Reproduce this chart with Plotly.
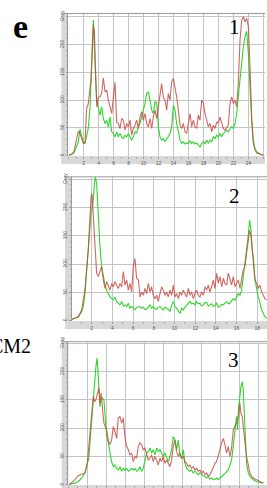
import plotly.graph_objects as go

# ---------------- data (distance in µm, intensity in gray levels) ----------------
dist1 = [0.07, 0.42, 0.73, 1.09, 1.31, 1.53, 1.76, 1.98, 2.20, 2.42, 2.64, 2.87, 3.00, 3.13, 3.31, 3.44, 3.58,
         3.76, 3.98, 4.20, 4.42, 4.64, 4.87, 5.09, 5.31, 5.53,
         5.76, 5.98, 6.20, 6.42, 6.64, 6.87, 7.09, 7.31, 7.53,
         7.76, 7.98, 8.20, 8.42, 8.64, 8.87, 9.09, 9.31, 9.53,
         9.76, 9.98, 10.20, 10.42, 10.64, 10.87, 11.09, 11.31, 11.53,
         11.76, 11.98, 12.20, 12.42, 12.64, 12.87, 13.09, 13.31, 13.53,
         13.76, 13.98, 14.20, 14.42, 14.64, 14.87, 15.09, 15.31, 15.53,
         15.76, 15.98, 16.20, 16.42, 16.64, 16.87, 17.09, 17.31, 17.53,
         17.76, 17.98, 18.20, 18.42, 18.64, 18.87, 19.09, 19.31, 19.53,
         19.76, 19.98, 20.20, 20.42, 20.64, 20.87, 21.09, 21.31, 21.53,
         21.76, 21.98, 22.20, 22.42, 22.64, 22.87, 23.09, 23.31, 23.53,
         23.76, 23.98, 24.20, 24.42, 24.64, 24.87, 25.09, 25.53, 25.98]
green1 = [1, 2, 5, 16, 25, 48, 35, 24, 22, 36, 50, 88, 125, 185, 244, 210, 150,
          98, 82, 73, 88, 67, 58, 64, 52, 70,
          43, 40, 34, 43, 34, 40, 34, 31, 37,
          34, 40, 34, 28, 34, 43, 40, 52, 58,
          70, 82, 94, 112, 115, 100, 82, 76, 97,
          95, 52, 34, 28, 31, 25, 31, 34, 40,
          52, 91, 82, 58, 40, 28, 22, 25, 21,
          23, 22, 27, 22, 25, 21, 23, 19, 16,
          22, 25, 22, 28, 23, 28, 25, 34, 31,
          37, 34, 40, 34, 40, 43, 46, 43, 49,
          52, 49, 58, 76, 106, 136, 172, 196, 214,
          224, 184, 118, 64, 28, 13, 7, 3, 1]
red1 = [1, 3, 8, 28, 44, 40, 30, 22, 24, 85, 94, 128, 136, 172, 235, 226, 165,
        88, 105, 106, 112, 140, 115, 118, 100, 88,
        76, 105, 132, 60, 58, 49, 67, 64, 46,
        58, 52, 64, 37, 49, 55, 64, 49, 70,
        79, 64, 76, 58, 52, 67, 49, 70, 82,
        67, 88, 118, 130, 105, 100, 82, 112, 100,
        133, 139, 125, 106, 82, 55, 49, 58, 43,
        40, 58, 76, 52, 64, 52, 49, 73, 64,
        100, 95, 76, 64, 52, 58, 43, 55, 49,
        61, 58, 70, 58, 49, 46, 52, 55, 94,
        106, 94, 100, 88, 130, 208, 244, 250, 241,
        247, 232, 160, 70, 22, 10, 5, 3, 1]

dist2 = [0.06, 0.39, 0.71, 1.03, 1.19, 1.35, 1.51, 1.67, 1.84, 1.93, 2.03, 2.16, 2.25, 2.35, 2.48,
         2.64, 2.80, 2.96, 3.12, 3.29, 3.45, 3.61, 3.77, 3.93, 4.09,
         4.25, 4.41, 4.57, 4.73, 4.90, 5.06, 5.22, 5.38, 5.54, 5.70,
         5.86, 6.02, 6.18, 6.34, 6.51, 6.67, 6.83, 6.99, 7.15, 7.31,
         7.47, 7.63, 7.79, 7.95, 8.12, 8.28, 8.44, 8.60, 8.76, 8.92,
         9.08, 9.24, 9.40, 9.57, 9.73, 9.89, 10.05, 10.21, 10.37, 10.53,
         10.69, 10.85, 11.01, 11.18, 11.34, 11.50, 11.66, 11.82, 11.98, 12.14,
         12.30, 12.46, 12.62, 12.79, 12.95, 13.11, 13.27, 13.43, 13.59, 13.75,
         13.91, 14.07, 14.24, 14.40, 14.56, 14.72, 14.88, 15.04, 15.20, 15.36,
         15.52, 15.68, 15.85, 16.01, 16.17, 16.33, 16.49, 16.65, 16.81, 16.97,
         17.13, 17.26, 17.39, 17.52, 17.62, 17.78, 17.94, 18.10, 18.26, 18.42,
         18.58, 18.74, 18.91]
green2 = [2, 4, 7, 16, 25, 48, 90, 125, 172, 190, 196, 215, 240, 254, 243,
          178, 131, 96, 78, 63, 54, 48, 42, 39, 37,
          42, 34, 31, 28, 34, 26, 28, 25, 31, 22,
          25, 22, 19, 24, 25, 25, 22, 24, 20, 20,
          24, 28, 22, 25, 21, 20, 24, 25, 22, 19,
          24, 22, 20, 16, 28, 34, 25, 22, 16, 13,
          22, 19, 24, 28, 30, 34, 30, 31, 28, 34,
          30, 31, 26, 28, 32, 32, 26, 28, 30, 25,
          27, 31, 24, 25, 29, 28, 31, 34, 30, 31,
          35, 39, 36, 42, 48, 45, 54, 78, 101, 125,
          151, 178, 160, 125, 113, 72, 54, 42, 31, 19,
          13, 7, 4]
red2 = [2, 4, 7, 19, 34, 54, 90, 125, 184, 219, 225, 178, 150, 125, 84,
        78, 87, 96, 72, 57, 69, 63, 54, 66, 60,
        69, 63, 57, 66, 60, 87, 63, 72, 54, 66,
        51, 96, 110, 75, 72, 42, 51, 45, 57, 48,
        66, 51, 60, 45, 39, 45, 34, 48, 60, 54,
        45, 51, 42, 54, 45, 63, 42, 48, 39, 51,
        45, 54, 48, 42, 57, 45, 51, 39, 48, 54,
        45, 42, 51, 45, 60, 54, 63, 51, 60, 72,
        57, 84, 66, 78, 60, 75, 66, 63, 84, 72,
        63, 78, 60, 66, 72, 57, 78, 90, 96, 119,
        148, 160, 150, 125, 96, 72, 66, 57, 63, 51,
        45, 39, 37]

dist3 = [0.07, 0.35, 0.70, 1.05, 1.40, 1.75, 2.00, 2.14, 2.28, 2.46, 2.63, 2.77, 2.91, 3.02, 3.12, 3.23,
         3.33, 3.47, 3.61, 3.75, 3.89, 4.04,
         4.21, 4.39, 4.56, 4.74, 4.91, 5.09, 5.26, 5.44, 5.61, 5.79,
         5.96, 6.14, 6.32, 6.49, 6.67, 6.84, 7.02, 7.19, 7.37, 7.54,
         7.72, 7.89, 8.07, 8.25, 8.42, 8.60, 8.77, 8.95, 9.12, 9.30,
         9.47, 9.65, 9.82, 10.00, 10.18, 10.35, 10.53, 10.70, 10.88, 11.05,
         11.23, 11.40, 11.58, 11.75, 11.93, 12.11, 12.28, 12.46, 12.63, 12.81,
         12.98, 13.16, 13.33, 13.51, 13.68, 13.86, 14.04, 14.21, 14.39, 14.56,
         14.74, 14.91, 15.09, 15.26, 15.44, 15.61, 15.79, 15.96, 16.14, 16.32,
         16.49, 16.67, 16.84, 17.02, 17.19, 17.37, 17.54, 17.72,
         17.82, 17.93, 18.07, 18.18, 18.32, 18.42, 18.53, 18.67, 18.77, 18.95,
         19.12, 19.30, 19.47, 19.82, 20.18, 20.53]
green3 = [0, 2, 3, 6, 12, 21, 38, 45, 75, 120, 156, 179, 209, 224, 203, 162,
          138, 153, 153, 150, 121, 85,
          74, 56, 41, 32, 35, 29, 26, 32, 24, 29,
          26, 29, 24, 26, 29, 26, 29, 24, 26, 32,
          24, 29, 44, 56, 59, 65, 56, 62, 53, 65,
          59, 62, 56, 50, 56, 47, 41, 50, 62, 85,
          80, 62, 79, 53, 47, 62, 38, 29, 26, 24,
          26, 21, 24, 21, 18, 21, 18, 16, 15, 12,
          15, 10, 12, 9, 10, 12, 9, 12, 15, 18,
          21, 24, 26, 35, 44, 68, 97, 121,
          97, 138, 156, 174, 182, 168, 126, 79, 38, 21,
          15, 12, 9, 6, 4, 3]
red3 = [0, 4, 9, 16, 18, 21, 38, 68, 97, 126, 156, 147, 150, 158, 165, 171,
        144, 162, 132, 109, 103, 97,
        79, 71, 79, 103, 94, 82, 118, 121, 109, 118,
        85, 68, 62, 53, 56, 41, 50, 47, 68, 74,
        71, 62, 65, 53, 44, 47, 53, 41, 50, 44,
        35, 47, 41, 50, 38, 44, 38, 32, 44, 68,
        79, 59, 50, 56, 47, 50, 41, 38, 32, 35,
        29, 32, 26, 29, 24, 26, 21, 24, 18, 21,
        15, 18, 24, 32, 38, 41, 50, 62, 74, 82,
        71, 56, 68, 50, 65, 97, 103, 109,
        115, 121, 144, 126, 121, 103, 90, 65, 50, 32,
        21, 15, 12, 9, 6, 3]

x_ticks1 = [2, 4, 6, 8, 10, 12, 14, 16, 18, 20, 22, 24, 26]
x_text1 = ["2", "4", "6", "8", "10", "12", "14", "16", "18", "20", "22", "24", "µm"]
x_ticks2 = [2, 4, 6, 8, 10, 12, 14, 16, 18]
x_text2 = ["2", "4", "6", "8", "10", "12", "14", "16", "18"]
x_ticks3 = [2, 4, 6, 8, 10, 12, 14, 16, 18, 20]
x_text3 = ["2", "4", "6", "8", "10", "12", "14", "16", "18", "20"]
y_ticks = [0, 50, 100, 150, 200, 250]
y_text = ["0", "50", "100", "150", "200", "Gray"]

# ---------------- figure ----------------
W, H = 267, 488
GREEN = "rgb(45,215,45)"
RED = "rgba(200,70,62,0.82)"


def px(x):
    return x / W


def py(y):
    return 1 - y / H


panels = [
    (dist1, green1, red1, (68, 265), (13.5, 156), [-0.07, 26.2], [-0.5, 255.8], x_ticks1, x_text1),
    (dist2, green2, red2, (71.5, 267), (176.8, 321), [0.05, 18.94], [-0.5, 254.4], x_ticks2, x_text2),
    (dist3, green3, red3, (68.3, 267), (341.7, 485), [0.0, 20.92], [-0.3, 252.7], x_ticks3, x_text3),
]

fig = go.Figure()
layout = dict(
    width=W, height=H,
    margin=dict(l=0, r=0, t=0, b=0, pad=0),
    paper_bgcolor="white", plot_bgcolor="white",
    showlegend=False,
)
shapes = []
for i, (d, g, r, xd, yd, xr, yr, xt, xtt) in enumerate(panels, start=1):
    xa = "x" if i == 1 else f"x{i}"
    ya = "y" if i == 1 else f"y{i}"
    fig.add_trace(go.Scatter(x=d, y=g, mode="lines", line=dict(color=GREEN, width=1.1),
                             xaxis=xa, yaxis=ya, hoverinfo="skip"))
    fig.add_trace(go.Scatter(x=d, y=r, mode="lines", line=dict(color=RED, width=1.1),
                             xaxis=xa, yaxis=ya, hoverinfo="skip"))
    xkey = "xaxis" if i == 1 else f"xaxis{i}"
    ykey = "yaxis" if i == 1 else f"yaxis{i}"
    layout[xkey] = dict(
        domain=[px(xd[0]), px(xd[1])], range=xr, anchor=ya, automargin=False,
        tickvals=xt, ticktext=xtt, tickfont=dict(size=5, color="#555", family="Arial"),
        showgrid=True, gridcolor="#c4c4c4", gridwidth=1, zeroline=False,
        showline=False, ticks="outside", ticklen=1.5, tickcolor="#999",
        minor=dict(dtick=1, ticks="outside", ticklen=1.5, tickcolor="#aaa", showgrid=False),
    )
    layout[ykey] = dict(
        domain=[py(yd[1]), py(yd[0])], range=yr, anchor=xa, automargin=False,
        tickvals=y_ticks, ticktext=y_text, tickangle=-90,
        tickfont=dict(size=5, color="#555", family="Arial"),
        showgrid=True, gridcolor="#c4c4c4", gridwidth=1, zeroline=False,
        showline=True, linecolor="#9a9a9a", linewidth=1,
        ticks="outside", ticklen=1.5, tickcolor="#999",
        minor=dict(dtick=10, ticks="outside", ticklen=1, tickcolor="#aaa", showgrid=False),
    )
    band_left = xd[0] - 6.5
    shapes.append(dict(type="rect", xref="paper", yref="paper",
                       x0=px(band_left), x1=px(xd[0]), y0=py(min(yd[1] + 8, H)), y1=py(yd[0]),
                       fillcolor="#d8d8d8", line=dict(width=0), layer="below"))
    shapes.append(dict(type="rect", xref="paper", yref="paper",
                       x0=px(band_left), x1=px(xd[1]), y0=py(min(yd[1] + 8, H)), y1=py(yd[1]),
                       fillcolor="#d8d8d8", line=dict(width=0), layer="below"))
    shapes.append(dict(type="line", xref="paper", yref="paper",
                       x0=px(band_left), x1=px(xd[1]), y0=py(yd[0]), y1=py(yd[0]),
                       line=dict(color="#9a9a9a", width=1)))

layout["shapes"] = shapes
serif = "Liberation Serif, Times New Roman, serif"
layout["annotations"] = [
    dict(text="<b>e</b>", x=px(20.5), y=py(27), xref="paper", yref="paper", showarrow=False,
         font=dict(family=serif, size=34, color="black"), xanchor="center", yanchor="middle"),
    dict(text="1", x=px(234), y=py(27.5), xref="paper", yref="paper", showarrow=False,
         font=dict(family=serif, size=21, color="black"), xanchor="center", yanchor="middle"),
    dict(text="2", x=px(234), y=py(195.5), xref="paper", yref="paper", showarrow=False,
         font=dict(family=serif, size=21, color="black"), xanchor="center", yanchor="middle"),
    dict(text="3", x=px(233.5), y=py(359.5), xref="paper", yref="paper", showarrow=False,
         font=dict(family=serif, size=21, color="black"), xanchor="center", yanchor="middle"),
    dict(text="CM2", x=px(32.5), y=py(345.5), xref="paper", yref="paper", showarrow=False,
         font=dict(family=serif, size=20, color="black"), xanchor="right", yanchor="middle"),
]
fig.update_layout(**layout)
fig.write_html(
    "out.html",
    include_plotlyjs=True,
    config={"displayModeBar": False},
    post_script="document.body.style.margin='0';document.body.style.padding='0';",
)
